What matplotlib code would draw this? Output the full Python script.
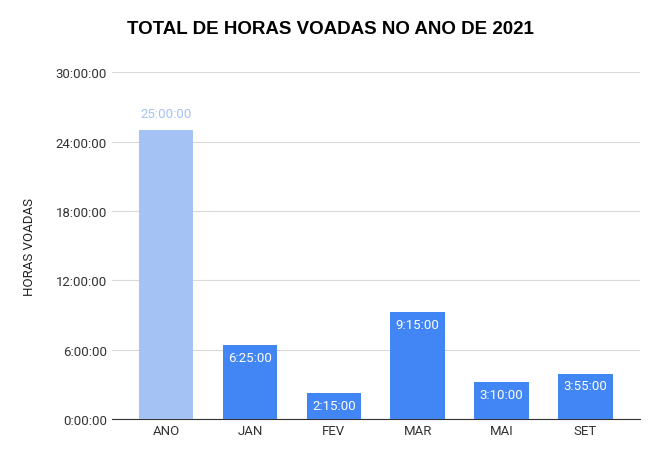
import matplotlib.pyplot as plt

# flight hours per period (in hours)
categories = ["ANO", "JAN", "FEV", "MAR", "MAI", "SET"]
hours = [25.0, 6 + 25/60, 2 + 15/60, 9 + 15/60, 3 + 10/60, 3 + 55/60]
value_labels = ["25:00:00", "6:25:00", "2:15:00", "9:15:00", "3:10:00", "3:55:00"]
y_ticks = [0, 6, 12, 18, 24, 30]
y_tick_labels = ["0:00:00", "6:00:00", "12:00:00", "18:00:00", "24:00:00", "30:00:00"]

plt.rcParams["font.family"] = "Roboto"

fig = plt.figure(figsize=(6.61, 4.6), dpi=100)
ax = fig.add_axes([0.169, 0.087, 0.799, 0.754])

colors = ["#a4c2f4"] + ["#4285f4"] * (len(categories) - 1)
x = list(range(len(categories)))
ax.bar(x, hours, width=0.65, color=colors, zorder=3)

for i, (h, lab) in enumerate(zip(hours, value_labels)):
    if i == 0:
        ax.text(i, h + 0.9, lab, ha="center", va="bottom", color="#a4c2f4", fontsize=9.5)
    else:
        ax.text(i, h - 0.5, lab, ha="center", va="top", color="white", fontsize=9.5)

ax.set_ylim(0, 30)
ax.set_xlim(-0.65, len(categories) - 0.35)
ax.set_yticks(y_ticks)
ax.set_yticklabels(y_tick_labels)
ax.set_xticks(x)
ax.set_xticklabels(categories)
ax.tick_params(length=0, labelsize=9.5, colors="#333333")
ax.grid(axis="y", color="#d9d9d9", linewidth=0.8, zorder=0)
for s in ["top", "right", "left"]:
    ax.spines[s].set_visible(False)
ax.spines["bottom"].set_color("#333333")
ax.set_ylabel("HORAS VOADAS", fontsize=9.5, color="#222222", labelpad=14)

fig.text(0.5, 0.935, "TOTAL DE HORAS VOADAS NO ANO DE 2021", ha="center", va="center",
         fontsize=13.5, fontweight="bold", family="Liberation Sans")

fig.savefig("out.png", dpi=100)
